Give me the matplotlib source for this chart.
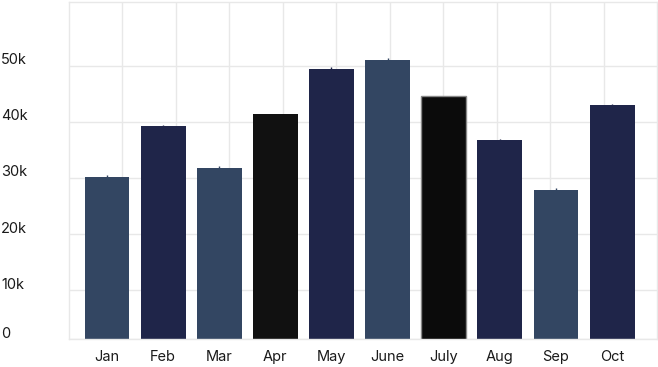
import numpy as np
import matplotlib.pyplot as plt
import matplotlib.transforms as mtransforms

# --- data ---
meses = ['Jan', 'Feb', 'Mar', 'Apr', 'May', 'June', 'July', 'Aug', 'Sep', 'Oct']
valores = [30200, 39200, 31800, 41400, 49500, 51100, 44600, 36700, 27900, 43000]
errores = [250, 250, 250, 0, 250, 250, 0, 250, 250, 250]
colores = ['#334662', '#1f2549', '#334662', '#111111', '#1f2549',
           '#334662', '#0b0b0b', '#1f2549', '#334662', '#1f2549']
bordes = ['none', 'none', 'none', 'none', 'none', 'none', '#888888', 'none', 'none', 'none']
ticks_y = [1250, 10000, 20000, 30000, 40000, 50000]
etiquetas_y = ['0', '10k', '20k', '30k', '40k', '50k']

plt.rcParams['font.family'] = ['Inter', 'DejaVu Sans']

fig = plt.figure(figsize=(6.58, 3.67), dpi=100)
ax = fig.add_axes([69 / 658, 28 / 367, 588 / 658, 337 / 367])

x = np.arange(len(meses))
ax.bar(x, valores, width=0.8, color=colores, edgecolor=bordes, linewidth=1,
       zorder=2)
for xi, v, e, c in zip(x, valores, errores, colores):
    if e > 0:
        ax.errorbar(xi, v, yerr=e, color=c, lw=1, capsize=0, zorder=3)

ax.set_xlim(-0.677, 9.80)
ax.set_ylim(1250, 61400)

# rejilla vertical: 11 divisiones iguales
x0, x1 = ax.get_xlim()
ax.set_xticks(np.linspace(x0, x1, 12)[1:-1], minor=True)
ax.set_xticks(x)
ax.set_xticklabels(meses, fontsize=10.5, color='#1a1a1a')
ax.set_yticks(ticks_y)
ax.set_yticklabels(etiquetas_y, fontsize=10.5, color='#1a1a1a')

ax.grid(True, axis='y', color='#e8e8e8', lw=1, zorder=0)
ax.grid(True, axis='x', which='minor', color='#e8e8e8', lw=1, zorder=0)
ax.tick_params(axis='both', which='both', length=0)
ax.tick_params(axis='x', pad=8)
ax.tick_params(axis='y', pad=49)
for lab in ax.get_yticklabels():
    lab.set_horizontalalignment('left')
    lab.set_transform(lab.get_transform() +
                      mtransforms.ScaledTranslation(0, 5 / 72, fig.dpi_scale_trans))
ax.set_axisbelow(True)

for s in ax.spines.values():
    s.set_color('#e8e8e8')
    s.set_linewidth(1)

fig.savefig('out.png', dpi=100)
